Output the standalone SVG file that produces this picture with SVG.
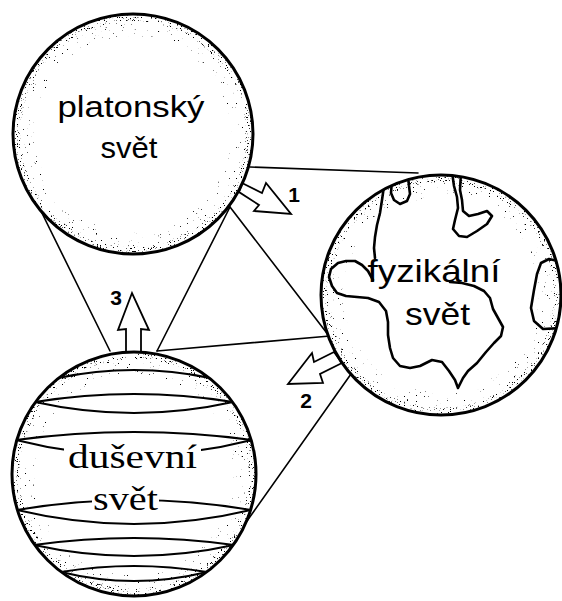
<svg xmlns="http://www.w3.org/2000/svg" width="562" height="601" viewBox="0 0 562 601">
  <style>
    .rim { fill: #fff; stroke: #000; stroke-width: 3; }
    .grain-near { fill: none; stroke: #000; stroke-width: 6; }
    .grain-far { fill: none; stroke: #000; stroke-width: 16; }
    .link { fill: none; stroke: #000; stroke-width: 1.6; stroke-linecap: round; }
    .arrow { fill: #fff; stroke: #000; stroke-width: 1.8; stroke-linejoin: miter; }
    .coast { fill: none; stroke: #000; stroke-width: 2.6; stroke-linejoin: round; stroke-linecap: round; }
    .band { fill: none; stroke: #000; stroke-width: 2; }
    .sans { font-family: "Liberation Sans", Arial, sans-serif; fill: #000; }
    .serif { font-family: "Liberation Serif", "Times New Roman", serif; fill: #000; }
    .num { font-family: "Liberation Sans", Arial, sans-serif; font-weight: bold; font-size: 21px; fill: #000; text-anchor: middle; }
  </style>
  <defs>
    <!-- irregular speckle for the shaded rims: denser close to the outline, very sparse further in -->
    <filter id="grainDense" x="-5%" y="-5%" width="110%" height="110%" color-interpolation-filters="sRGB">
      <feTurbulence type="fractalNoise" baseFrequency="0.7" numOctaves="3" seed="11" result="noise"/>
      <feColorMatrix in="noise" type="matrix" values="0 0 0 0 0  0 0 0 0 0  0 0 0 0 0  12 0 0 0 -7.7" result="dots"/>
      <feComposite in="dots" in2="SourceAlpha" operator="in"/>
    </filter>
    <filter id="grainSparse" x="-5%" y="-5%" width="110%" height="110%" color-interpolation-filters="sRGB">
      <feTurbulence type="fractalNoise" baseFrequency="0.55" numOctaves="3" seed="4" result="noise"/>
      <feColorMatrix in="noise" type="matrix" values="0 0 0 0 0  0 0 0 0 0  0 0 0 0 0  14 0 0 0 -10.4" result="dots"/>
      <feComposite in="dots" in2="SourceAlpha" operator="in"/>
    </filter>
    <clipPath id="clipPhys"><circle cx="441" cy="295" r="119"/></clipPath>
    <clipPath id="clipMind"><circle cx="134" cy="474" r="121"/></clipPath>
  </defs>

  <rect width="562" height="601" fill="#fff"/>

  <!-- connecting lines and the three numbered arrows -->
  <g id="connectors">
    <line class="link" x1="37" y1="203" x2="110" y2="351"/>
    <line class="link" x1="230" y1="207" x2="157" y2="351"/>
    <line class="link" x1="250" y1="167" x2="418" y2="173"/>
    <line class="link" x1="230" y1="207" x2="336" y2="345"/>
    <line class="link" x1="157" y1="351" x2="330" y2="336"/>
    <line class="link" x1="351" y1="374" x2="247" y2="521"/>

    <polygon id="arrow1" class="arrow" points="242,183 262,193 266,183 291,214 254,211 259,205 239,192"/>
    <polygon id="arrow2" class="arrow" points="334,352 314,362 312,353 288,384 323,383 320,374 342,363"/>
    <polygon id="arrow3" class="arrow" points="126,352 126,329 118,330 132,293 149,330 141,329 141,352"/>

    <text class="num" x="294" y="202">1</text>
    <text class="num" x="306" y="408">2</text>
    <text class="num" x="116" y="305">3</text>
  </g>

  <!-- Platonic world -->
  <g id="platonic">
    <circle class="rim" cx="133" cy="134" r="120"/>
    <circle class="grain-near" cx="133" cy="134" r="116" filter="url(#grainDense)"/>
    <circle class="grain-far" cx="133" cy="134" r="106" filter="url(#grainSparse)"/>
    <text class="sans" font-size="30" text-anchor="middle" x="131" y="117" textLength="147" lengthAdjust="spacingAndGlyphs">platonský</text>
    <text class="sans" font-size="30" text-anchor="middle" x="129" y="158" textLength="57" lengthAdjust="spacingAndGlyphs">svět</text>
  </g>

  <!-- physical world: globe with coastlines -->
  <g id="physical">
    <circle class="rim" cx="441" cy="295" r="120"/>
    <circle class="grain-near" cx="441" cy="295" r="116" filter="url(#grainDense)"/>
    <circle class="grain-far" cx="441" cy="295" r="106" filter="url(#grainSparse)"/>
    <g clip-path="url(#clipPhys)">
      <path class="coast" d="M373,280 L368,271 L362,265 L355,261 L346,261 L338,263 L331,269 L329,277 L332,286 L337,293 L346,296 L357,297 L368,298 L379,302 L386,311 L388,322 L388,335 L390,348 L393,358 L400,366 L410,368 L420,366 L432,360 L442,362 L449,371 L455,380 L458,388 L463,378 L468,371 L477,363 L486,352 L494,343 L501,336 L503,327 L498,318 L493,309 L490,298 L484,291 L474,286 L462,283 L450,282"/>
      <path class="coast" d="M384,186 L382,200 L380,213 L377,225 L375,237 L374,248 L375,258"/>
      <path class="coast" d="M392,180 L391,193 L394,200 L400,204 L407,201 L410,194 L409,186 L408,176"/>
      <path class="coast" d="M452,172 L454,186 L457,197 L458,208 L455,220 L453,229 L459,236 L467,237 L477,231 L487,224 L492,216 L487,211 L478,214 L469,216 L463,211 L462,200 L460,190 L461,172"/>
      <path class="coast" d="M562,262 L549,259 L541,263 L537,274 L534,290 L531,308 L534,321 L543,329 L562,328"/>
    </g>
    <text class="sans" font-size="32" text-anchor="middle" x="434" y="282" textLength="133" lengthAdjust="spacingAndGlyphs">fyzikální</text>
    <text class="sans" font-size="32" text-anchor="middle" x="437.5" y="325" textLength="65" lengthAdjust="spacingAndGlyphs">svět</text>
  </g>

  <!-- mental world: banded sphere -->
  <g id="mental">
    <circle class="rim" cx="134" cy="474" r="122" stroke-width="3.5"/>
    <circle class="grain-near" cx="134" cy="474" r="118" filter="url(#grainDense)"/>
    <circle class="grain-far" cx="134" cy="474" r="108" filter="url(#grainSparse)"/>
    <g clip-path="url(#clipMind)">
      <path class="band" d="M58,378 Q134,362 210,378"/>
      <path class="band" d="M35,402 Q134,386 233,402"/>
      <path class="band" d="M35,402 Q134,424 233,402"/>
      <path class="band" d="M16,440 Q134,424 252,440"/>
      <path class="band" d="M16,440 Q134,470 252,440"/>
      <path class="band" d="M17,510 Q134,490 251,510"/>
      <path class="band" d="M17,510 Q134,538 251,510"/>
      <path class="band" d="M34,545 Q134,531 234,545"/>
      <path class="band" d="M34,545 Q134,567 234,545"/>
      <path class="band" d="M61,572 Q134,560 207,572"/>
      <path class="band" d="M61,572 Q134,590 207,572"/>
    </g>
    <rect x="64" y="444" width="137" height="26" fill="#fff"/>
    <rect x="92" y="493" width="67" height="19" fill="#fff"/>
    <text class="serif" font-size="33" text-anchor="middle" x="132.5" y="468" textLength="129" lengthAdjust="spacingAndGlyphs">duševní</text>
    <text class="serif" font-size="33" text-anchor="middle" x="125.5" y="510" textLength="65" lengthAdjust="spacingAndGlyphs">svět</text>
  </g>
</svg>
